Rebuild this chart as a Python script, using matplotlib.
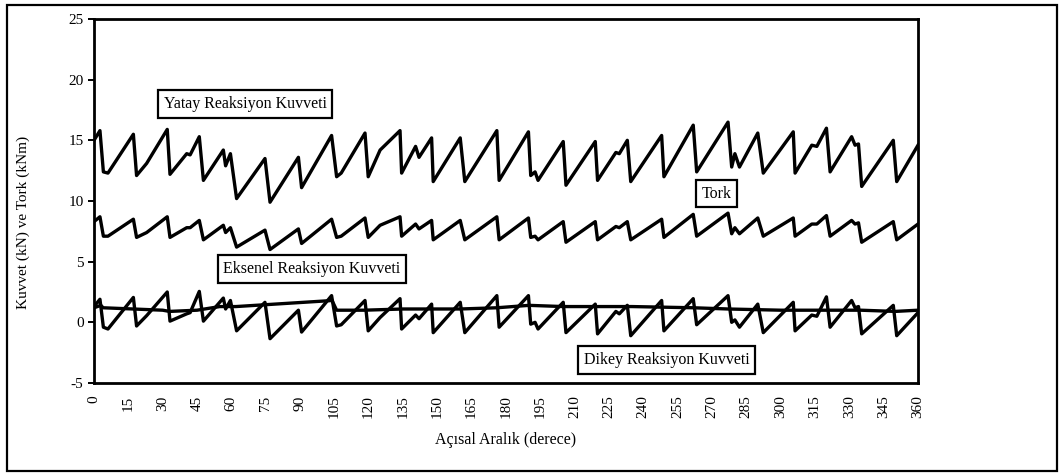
import matplotlib
matplotlib.use("Agg")
import matplotlib.pyplot as plt
from matplotlib.patches import Rectangle

plt.rcParams["font.family"] = ["Liberation Serif", "DejaVu Serif"]

# vertex angles (degrees)
angles = [0, 2.6, 4.1, 6.1, 17.2, 18.6, 23, 32, 33.2, 40.5, 42, 46, 47.8,
          56.5, 57.5, 59.6, 62.3, 74.7, 76.9, 89.3, 90.7, 103.8, 106, 108,
          118.4, 119.8, 125, 133.7, 134.4, 140.5, 142, 147.5, 148.2, 160, 162,
          176, 177, 189.8, 190.8, 192.7, 194, 205, 206.2, 219, 220, 228, 229.5,
          233, 234.5, 248, 249, 261.8, 263.3, 277, 278.6, 280, 282, 290, 292.4,
          305.5, 306.3, 313.6, 315.8, 320, 321.6, 331, 332.5, 334, 335.4,
          349.2, 350.7, 360]

yatay = [15.0, 15.8, 12.4, 12.3, 15.5, 12.1, 13.1, 15.9, 12.2, 13.9, 13.8,
         15.3, 11.7, 14.2, 12.9, 13.9, 10.2, 13.5, 9.9, 13.6, 11.1, 15.4, 12.0,
         12.3, 15.6, 12.0, 14.2, 15.8, 12.3, 14.5, 13.6, 15.2, 11.6, 15.2, 11.6,
         15.8, 11.7, 15.7, 12.1, 12.4, 11.7, 14.9, 11.3, 14.9, 11.7, 14.0, 13.9,
         15.0, 11.6, 15.4, 12.0, 16.25, 12.4, 16.5, 12.8, 13.9, 12.8, 15.6,
         12.3, 15.7, 12.3, 14.6, 14.5, 16.0, 12.4, 15.3, 14.6, 14.7, 11.2, 15.0,
         11.6, 14.6]

tork = [8.3, 8.7, 7.1, 7.1, 8.5, 7.0, 7.4, 8.7, 7.0, 7.8, 7.8, 8.4, 6.8,
        8.0, 7.4, 7.8, 6.2, 7.6, 6.0, 7.7, 6.5, 8.5, 7.0, 7.1, 8.6, 7.0, 8.0,
        8.7, 7.1, 8.1, 7.7, 8.4, 6.8, 8.4, 6.8, 8.7, 6.8, 8.6, 7.0, 7.1, 6.8,
        8.3, 6.6, 8.3, 6.8, 7.9, 7.8, 8.3, 6.8, 8.5, 7.0, 8.9, 7.1, 9.0, 7.3,
        7.8, 7.3, 8.6, 7.1, 8.6, 7.1, 8.1, 8.1, 8.8, 7.1, 8.4, 8.1, 8.2, 6.6,
        8.3, 6.8, 8.1]

dikey = [1.3, 1.9, -0.4, -0.55, 2.05, -0.3, 0.55, 2.5, 0.1, 0.7, 0.8, 2.55,
         0.1, 2.0, 1.1, 1.8, -0.7, 1.65, -1.35, 1.0, -0.8, 2.2, -0.3, -0.2,
         1.8, -0.7, 0.4, 1.95, -0.55, 0.6, 0.3, 1.5, -0.85, 1.65, -0.85, 2.2,
         -0.4, 2.2, -0.15, 0.0, -0.55, 1.65, -0.85, 1.5, -0.95, 0.9, 0.7, 1.4,
         -1.1, 1.8, -0.7, 1.95, -0.2, 2.2, 0.0, 0.2, -0.4, 1.5, -0.85, 1.65,
         -0.7, 0.6, 0.5, 2.1, -0.4, 1.8, 1.2, 1.3, -0.95, 1.4, -1.1, 0.8]

eksenel_angles = [0, 3, 4, 30, 33, 45, 55, 62, 100, 104, 106, 118, 135, 160,
                  176, 190, 205, 235, 262, 277, 300, 335, 350, 360]
eksenel = [1.2, 1.4, 1.2, 1.0, 0.9, 1.0, 1.3, 1.3, 1.75, 1.8, 1.0, 1.0, 1.1,
           1.1, 1.2, 1.4, 1.3, 1.3, 1.2, 1.1, 1.0, 1.0, 0.9, 1.0]

xticks = list(range(0, 361, 15))
yticks = [-5, 0, 5, 10, 15, 20, 25]

fig = plt.figure(figsize=(10.6, 4.76), dpi=100)
ax = fig.add_axes([94 / 1060, 1 - 383 / 476, 824 / 1060, 364 / 476])

lw = 2.4
ax.plot(angles, yatay, color="black", lw=lw)
ax.plot(angles, tork, color="black", lw=lw)
ax.plot(angles, dikey, color="black", lw=lw)
ax.plot(eksenel_angles, eksenel, color="black", lw=lw)

ax.set_xlim(0, 360)
ax.set_ylim(-5, 25)
ax.set_xticks(xticks)
ax.set_xticklabels([str(t) for t in xticks], rotation=90, fontsize=11)
ax.set_yticks(yticks)
ax.set_yticklabels([str(t) for t in yticks], fontsize=11)
ax.tick_params(axis="both", direction="out", length=4, width=1.4, colors="black")
ax.tick_params(axis="x", length=0, pad=9)
for s in ax.spines.values():
    s.set_linewidth(2.0)

ax.set_xlabel("Açısal Aralık (derece)", fontsize=11.5, labelpad=10)
ax.set_ylabel("Kuvvet (kN) ve Tork (kNm)", fontsize=11)
ax.yaxis.set_label_coords(-0.078, 0.44)

box = dict(boxstyle="square,pad=0.35", fc="white", ec="black", lw=1.6)
labels = [
    (30.5, 18.0, "Yatay Reaksiyon Kuvveti"),
    (265.5, 10.6, "Tork"),
    (56.5, 4.4, "Eksenel Reaksiyon Kuvveti"),
    (214.0, -3.1, "Dikey Reaksiyon Kuvveti"),
]
for x, y, t in labels:
    ax.text(x, y, t, fontsize=11.5, va="center", ha="left", bbox=box)

# outer frame round the whole figure
fig.patches.append(Rectangle((7 / 1060, 1 - 471 / 476), 1050 / 1060, 466 / 476,
                             transform=fig.transFigure, fill=False,
                             ec="black", lw=1.6))

fig.savefig("out.png", dpi=100)
